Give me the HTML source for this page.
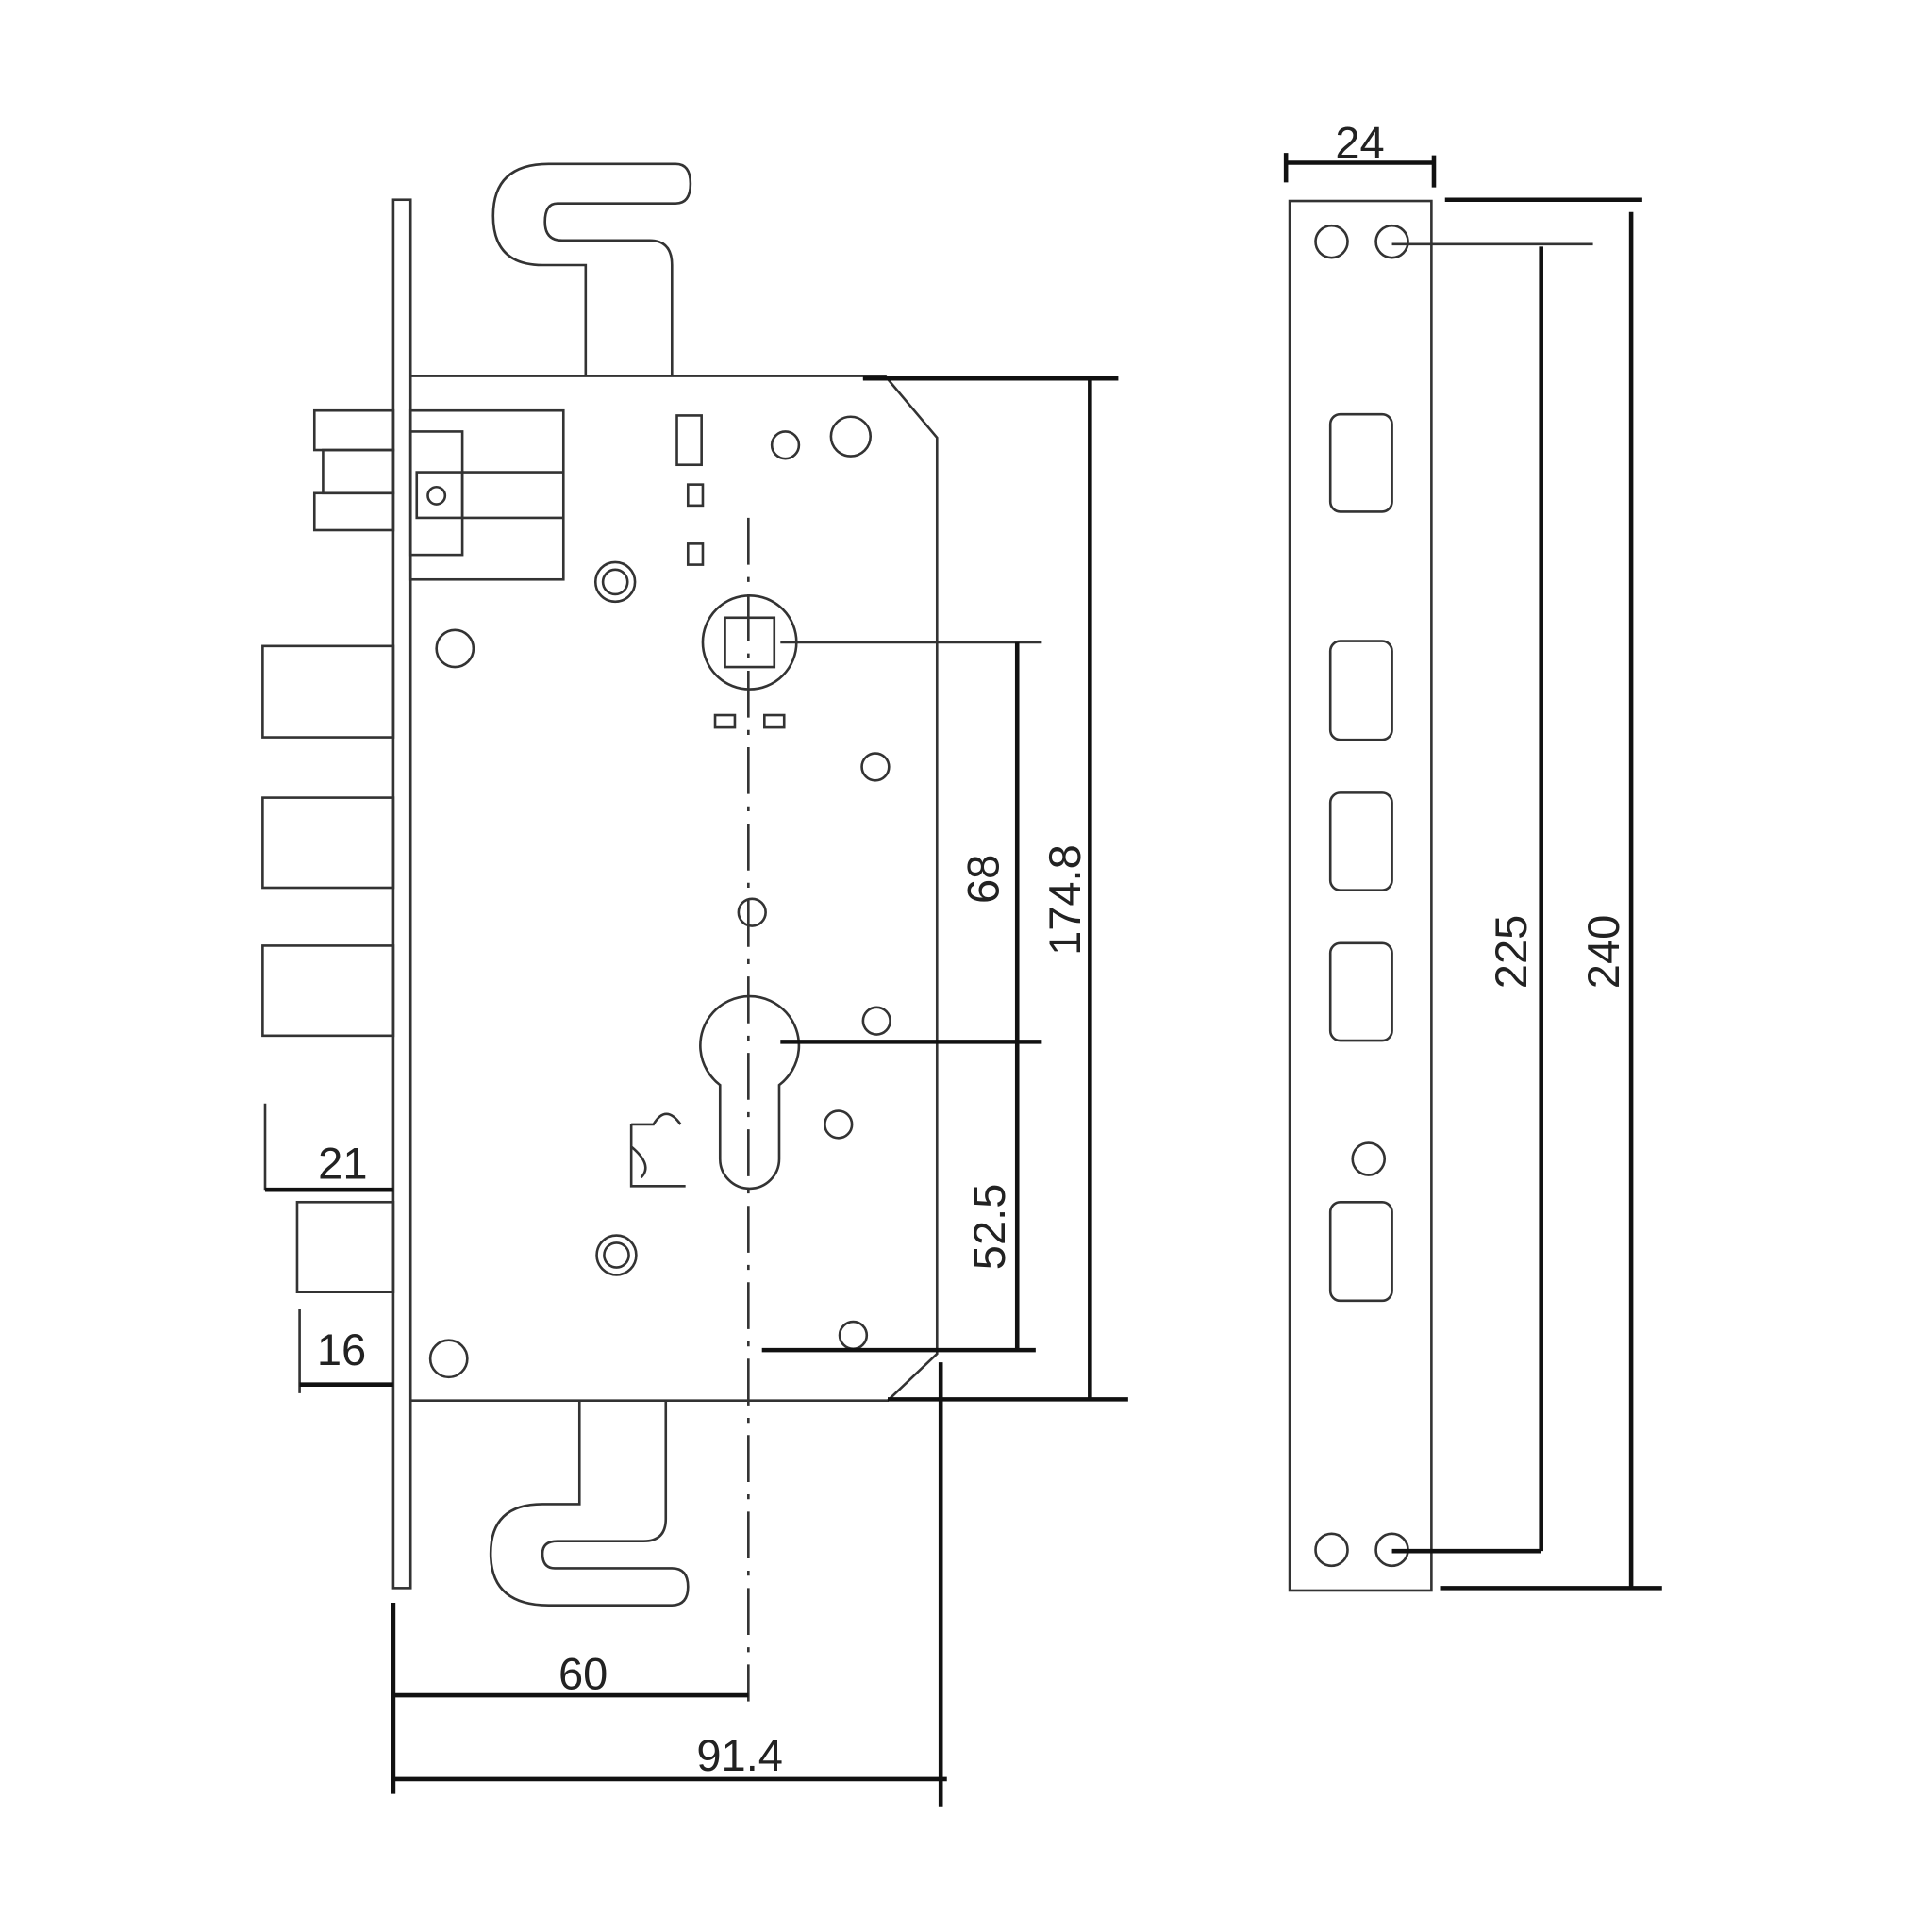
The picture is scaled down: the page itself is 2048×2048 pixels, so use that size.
<!DOCTYPE html>
<html><head><meta charset="utf-8"><style>html,body{margin:0;padding:0;background:#fff}svg{display:block}</style></head>
<body>
<svg width="2048" height="2048" viewBox="0 0 1567 1567" xmlns="http://www.w3.org/2000/svg">
<g fill="none" stroke="#333" stroke-width="2">
<!-- faceplate -->
<rect x="319" y="162" width="14" height="1126"/>
<!-- body -->
<path d="M333 305 H718 L760 355 V1098 L720 1136 H333"/>
<!-- top hook -->
<path d="M475 305 V215 H440 Q400 215 400 175 Q400 133 445 133 H548 Q560 133 560 149 Q560 165 548 165 H452 Q442 165 442 180 Q442 195 456 195 H527 Q545 195 545 215 V305"/>
<!-- bottom hook -->
<path d="M470 1136 V1220 H440 Q398 1220 398 1260 Q398 1302 445 1302 H545 Q558 1302 558 1287 Q558 1272 545 1272 H450 Q440 1272 440 1260 Q440 1250 452 1250 H522 Q540 1250 540 1232 V1136"/>
<!-- top latch -->
<rect x="255" y="333" width="64" height="32"/>
<rect x="262" y="365" width="57" height="35"/>
<rect x="255" y="400" width="64" height="30"/>
<rect x="333" y="333" width="124" height="137"/>
<rect x="333" y="350" width="42" height="100"/>
<rect x="338" y="383" width="37" height="37"/>
<circle cx="354" cy="402" r="7"/>
<path d="M375 383 H457 M375 420 H457"/>
<!-- bolts -->
<rect x="213" y="524" width="106" height="74"/>
<rect x="213" y="647" width="106" height="73"/>
<rect x="213" y="767" width="106" height="73"/>
<rect x="241" y="975" width="78" height="73"/>
<!-- circles -->
<circle cx="369" cy="526" r="15"/>
<circle cx="364" cy="1102" r="15"/>
<circle cx="499" cy="472" r="16"/><circle cx="499" cy="472" r="10"/>
<circle cx="500" cy="1018" r="16"/><circle cx="500" cy="1018" r="10"/>
<circle cx="637" cy="361" r="11"/>
<circle cx="690" cy="354" r="16"/>
<circle cx="710" cy="622" r="11"/>
<circle cx="610" cy="740" r="11"/>
<circle cx="711" cy="828" r="11"/>
<circle cx="680" cy="912" r="11"/>
<circle cx="692" cy="1083" r="11"/>
<rect x="549" y="337" width="20" height="40"/>
<rect x="558" y="393" width="12" height="17"/>
<rect x="558" y="441" width="12" height="17"/>
<rect x="580" y="580" width="16" height="10"/>
<rect x="620" y="580" width="16" height="10"/>
<!-- spindle -->
<circle cx="608" cy="521" r="38"/>
<rect x="588" y="501" width="40" height="40"/>
<!-- cylinder -->
<path d="M584 880 A40 40 0 1 1 632 880 V940 A24 24 0 0 1 584 940 Z"/>
<!-- small latch -->
<path d="M512 912 H530 Q540 895 552 912 M512 912 V962 H556 M512 930 Q530 945 520 955"/>
<!-- plate -->
<rect x="1046" y="163" width="115" height="1127"/>
<circle cx="1080" cy="196" r="13"/><circle cx="1129" cy="196" r="13"/>
<circle cx="1080" cy="1257" r="13"/><circle cx="1129" cy="1257" r="13"/>
<circle cx="1110" cy="940" r="13"/>
<rect x="1079" y="336" width="50" height="79" rx="8"/>
<rect x="1079" y="520" width="50" height="80" rx="8"/>
<rect x="1079" y="643" width="50" height="79" rx="8"/>
<rect x="1079" y="765" width="50" height="79" rx="8"/>
<rect x="1079" y="975" width="50" height="80" rx="8"/>
<!-- thin dim lines -->
<path d="M633 521 H845 M1129 198 H1292 M215 895 V965 M243 1062 V1130 M718 307 H700"/>
</g>
<path d="M607 420 V1380" stroke="#333" stroke-width="2" stroke-dasharray="38 10 4 10" fill="none"/>
<g fill="none" stroke="#111" stroke-width="3.5">
<path d="M633 845 H845 M825 521 V1095 M618 1095 H840 M700 307 H907 M884 307 V1135 M720 1135 H915"/>
<path d="M215 965 H319 M243 1123 H319"/>
<path d="M763 1105 V1465 M319 1300 V1455 M319 1375 H607 M319 1443 H768"/>
<path d="M1043 132 H1163 M1043 124 V148 M1163 126 V152"/>
<path d="M1172 162 H1332 M1323 172 V1288 M1168 1288 H1348 M1250 200 V1258 M1129 1258 H1250"/>
</g>
<g font-family="Liberation Sans, sans-serif" font-size="36" fill="#222" text-anchor="middle">
<text x="1103" y="128">24</text>
<text x="278" y="956">21</text>
<text x="277" y="1107">16</text>
<text x="473" y="1370">60</text>
<text x="600" y="1436">91.4</text>
<text transform="translate(810 713) rotate(-90)">68</text>
<text transform="translate(876 730) rotate(-90)">174.8</text>
<text transform="translate(815 995) rotate(-90)">52.5</text>
<text transform="translate(1238 772) rotate(-90)">225</text>
<text transform="translate(1313 772) rotate(-90)">240</text>
</g>
</svg>
</body></html>
